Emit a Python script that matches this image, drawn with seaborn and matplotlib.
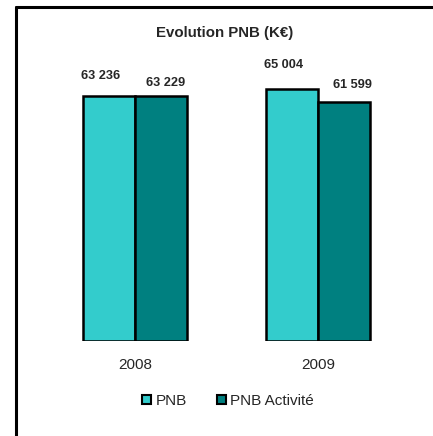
import matplotlib
matplotlib.use("Agg")
import matplotlib.pyplot as plt
import seaborn as sns
import pandas as pd
from matplotlib.lines import Line2D

years = ["2008", "2009"]
series = ["PNB", "PNB Activité"]
pnb = [63236, 65004]
pnb_activite = [63229, 61599]

df = pd.DataFrame({
    "annee": years * 2,
    "serie": [series[0]] * 2 + [series[1]] * 2,
    "valeur": pnb + pnb_activite,
})

sns.set_style("white")
plt.rcParams["font.family"] = ["Liberation Sans", "DejaVu Sans"]

fig = plt.figure(figsize=(4.33, 4.36), dpi=100)
ax = fig.add_axes([0.1005, 0.218, 0.845, 0.711])

sns.barplot(data=df, x="annee", y="valeur", hue="serie", ax=ax,
            palette=["#33CCCC", "#008080"], width=0.57, saturation=1,
            edgecolor="black", linewidth=1.8, legend=True)

ax.set_xlim(-0.5, 1.5)
ax.set_ylim(0, 80000)
ax.set_xlabel("")
ax.set_ylabel("")
ax.set_yticks([])
ax.tick_params(axis="x", length=0, labelsize=11, pad=12)
for s in ax.spines.values():
    s.set_visible(False)

# value labels, offsets in pixels (x, y) from bar top centre
offsets = [[(-8.5, 20), (-8, 24)], [(5, 13), (8, 17)]]
for cont, offs in zip(ax.containers, offsets):
    for bar, off in zip(cont, offs):
        v = bar.get_height()
        ax.annotate(f"{int(v):,}".replace(",", " "),
                    (bar.get_x() + bar.get_width() / 2, v),
                    xytext=off, textcoords="offset pixels",
                    ha="center", va="center", fontsize=9.2, fontweight="bold")

fig.text(0.518, 0.924, "Evolution PNB (K€)", ha="center", va="center",
         fontsize=10.8, fontweight="bold")

ax.legend_.remove()
handles = [plt.Rectangle((0, 0), 1, 1, facecolor=c, edgecolor="black", linewidth=1.5)
           for c in ["#33CCCC", "#008080"]]
fig.legend(handles, series, loc="center", bbox_to_anchor=(0.527, 0.080), ncol=2,
           frameon=False, fontsize=11, handlelength=0.55, handleheight=0.55,
           handletextpad=0.3, columnspacing=2.0)

# outer frame (top and left)
fig.add_artist(Line2D([16 / 433, 1], [1 - 7 / 436] * 2, transform=fig.transFigure,
                      color="black", linewidth=2.2))
fig.add_artist(Line2D([16 / 433] * 2, [0, 1 - 7 / 436], transform=fig.transFigure,
                      color="black", linewidth=2.2))

fig.savefig("out.png", dpi=100)
